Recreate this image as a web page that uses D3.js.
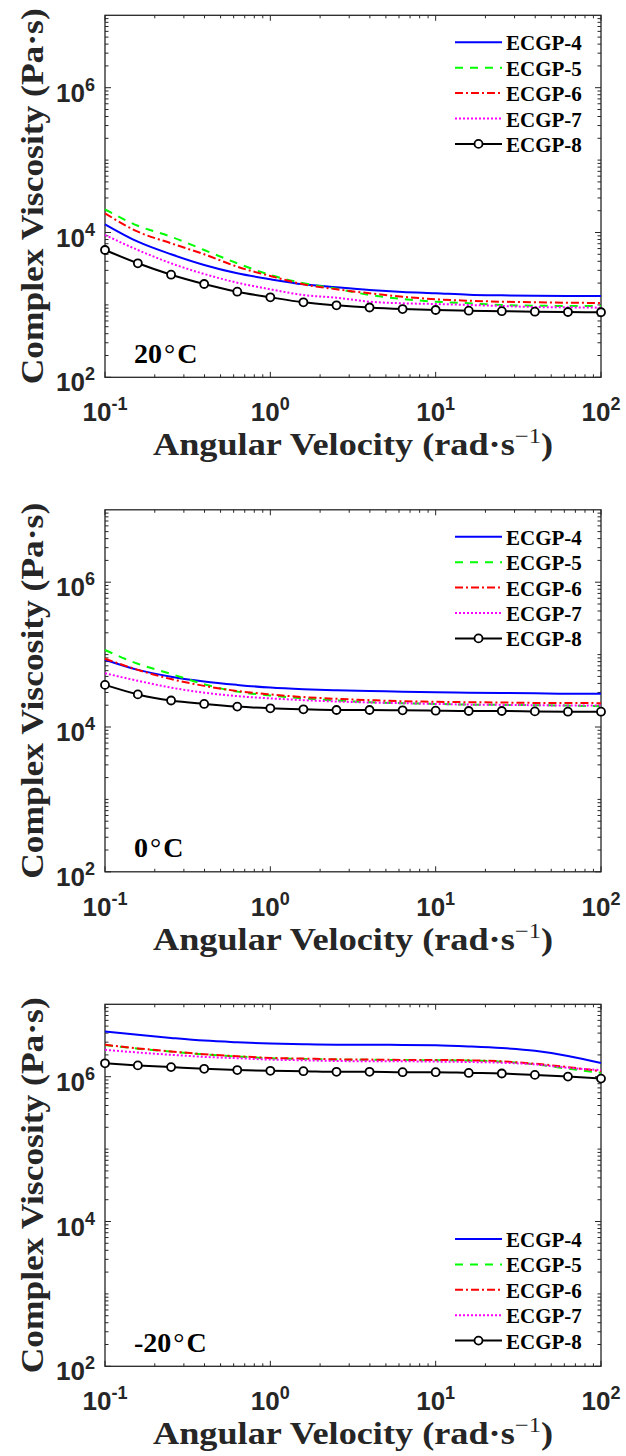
<!DOCTYPE html>
<html><head><meta charset="utf-8">
<script src="https://cdn.jsdelivr.net/npm/d3@7"></script>
<style>body{margin:0;background:#fff}svg{display:block}</style>
</head><body>
<svg id="chart" width="626" height="1456"></svg>
<script>
// ---------- data ----------
const omega = [0.1, 0.158, 0.251, 0.398, 0.631, 1, 1.585, 2.512, 3.981, 6.31, 10, 15.85, 25.12, 39.81, 63.1, 100];
const seriesNames = ["ECGP-4", "ECGP-5", "ECGP-6", "ECGP-7", "ECGP-8"];
const tempValues = ["20", "0", "-20"];
const xTickValues = [0.1, 1, 10, 100];
const xTickExp = ["-1", "0", "1", "2"];
const yTickValues = [1e2, 1e4, 1e6];
const yTickExp = ["2", "4", "6"];

// 20 °C
const t20_e4 = [12980, 7460, 5000, 3560, 2730, 2260, 1925, 1750, 1606, 1507, 1447, 1383, 1357, 1340, 1327, 1327];
const t20_e5 = [20900, 12400, 8750, 5730, 3755, 2590, 1990, 1674, 1370, 1206, 1107, 1052, 997, 975, 966, 966];
const t20_e6 = [18400, 10260, 7090, 5000, 3370, 2506, 1925, 1643, 1447, 1298, 1195, 1143, 1107, 1086, 1073, 1062];
const t20_e7 = [9240, 5730, 3755, 2673, 2026, 1643, 1370, 1257, 1107, 1052, 1029, 997, 966, 935, 926, 915];
const t20_e8 = [5730, 3755, 2612, 1944, 1522, 1274, 1086, 988, 920, 877, 850, 832, 819, 806, 798, 791];
// 0 °C
const t0_e4 = [85000, 61500, 49500, 42500, 38150, 35000, 33200, 32100, 31400, 30800, 30150, 29800, 29500, 29200, 28840, 28840];
const t0_e5 = [115700, 74700, 54000, 39000, 30800, 27300, 24840, 23230, 22000, 21300, 20840, 20390, 20200, 20010, 19760, 19320];
const t0_e6 = [87800, 61500, 45900, 37000, 31400, 28200, 25900, 24500, 23500, 22700, 22300, 22000, 21800, 21530, 21530, 21320];
const t0_e7 = [55200, 43500, 35000, 29800, 26700, 24840, 23500, 22500, 21800, 21300, 20840, 20390, 20200, 20010, 19760, 19760];
const t0_e8 = [38150, 28200, 23230, 20840, 19130, 18130, 17560, 17170, 17170, 17010, 16800, 16630, 16630, 16430, 16270, 16270];
// -20 °C
const tm20_e4 = [4225000, 3790000, 3435000, 3152000, 2986000, 2866000, 2802000, 2767000, 2767000, 2740000, 2714000, 2621000, 2491000, 2279000, 1938000, 1546000];
const tm20_e5 = [2740000, 2440000, 2220000, 2030000, 1900000, 1800000, 1760000, 1725000, 1710000, 1695000, 1690000, 1670000, 1615000, 1480000, 1290000, 1130000];
const tm20_e6 = [2767000, 2460000, 2236000, 2046000, 1919000, 1818000, 1778000, 1739000, 1723000, 1706000, 1706000, 1685000, 1632000, 1512000, 1357000, 1191000];
const tm20_e7 = [2352000, 2159000, 2007000, 1877000, 1801000, 1723000, 1685000, 1648000, 1632000, 1632000, 1617000, 1596000, 1561000, 1479000, 1327000, 1234000];
const tm20_e8 = [1531000, 1432000, 1357000, 1286000, 1234000, 1206000, 1191000, 1169000, 1169000, 1154000, 1154000, 1128000, 1107000, 1059000, 1003000, 941000];

const panels = [
  [t20_e4, t20_e5, t20_e6, t20_e7, t20_e8],
  [t0_e4, t0_e5, t0_e6, t0_e7, t0_e8],
  [tm20_e4, tm20_e5, tm20_e6, tm20_e7, tm20_e8]
];

// ---------- styles / layout ----------
const colors = ["#0000ff", "#00ff00", "#ff0000", "#ff00ff", "#000000"];
const dashes = [null, "8,7", "8,3,2,3", "2,2", null];
const L = 105, R = 601, H = 362;
const tops = [15.3, 509.8, 1004.3];
const legendTop = [27, 27, 234.7];
const axisColor = "#262626";
const serif = "Liberation Serif, Times New Roman, serif";
const sans = "Liberation Sans, Arial, sans-serif";

const svg = d3.select("#chart");

panels.forEach((series, pi) => {
  const top = tops[pi], bottom = top + H;
  const x = d3.scaleLog().domain([0.1, 100]).range([L, R]);
  const y = d3.scaleLog().domain([1e2, 1e7]).range([bottom, top]);
  const g = svg.append("g");

  // frame
  g.append("rect").attr("x", L).attr("y", top).attr("width", R - L).attr("height", H)
    .attr("fill", "none").attr("stroke", axisColor).attr("stroke-width", 1.3);

  // ticks
  const xMinor = [];
  for (let e = -1; e < 2; e++) for (let m = 2; m <= 9; m++) xMinor.push(m * Math.pow(10, e));
  const tk = g.append("g").attr("stroke", axisColor).attr("stroke-width", 1);
  xTickValues.forEach(v => {
    const px = x(v);
    tk.append("line").attr("x1", px).attr("x2", px).attr("y1", bottom).attr("y2", bottom - 5.5);
    tk.append("line").attr("x1", px).attr("x2", px).attr("y1", top).attr("y2", top + 5.5);
  });
  xMinor.forEach(v => {
    const px = x(v);
    tk.append("line").attr("x1", px).attr("x2", px).attr("y1", bottom).attr("y2", bottom - 3);
    tk.append("line").attr("x1", px).attr("x2", px).attr("y1", top).attr("y2", top + 3);
  });
  const yMinor = [];
  for (let e = 2; e < 7; e++) for (let m = 2; m <= 9; m++) yMinor.push(m * Math.pow(10, e));
  [1e3, 1e5].forEach(v => yMinor.push(v));
  yTickValues.forEach(v => {
    const py = y(v);
    tk.append("line").attr("x1", L).attr("x2", L + 6).attr("y1", py).attr("y2", py);
    tk.append("line").attr("x1", R).attr("x2", R - 6).attr("y1", py).attr("y2", py);
  });
  yMinor.forEach(v => {
    const py = y(v);
    tk.append("line").attr("x1", L).attr("x2", L + 3.5).attr("y1", py).attr("y2", py);
    tk.append("line").attr("x1", R).attr("x2", R - 3.5).attr("y1", py).attr("y2", py);
  });

  // tick labels
  xTickValues.forEach((v, i) => {
    const t = g.append("text").attr("x", x(v)).attr("y", bottom + 44)
      .attr("text-anchor", "middle").attr("font-family", sans)
      .attr("font-weight", "bold").attr("font-size", 26).attr("fill", axisColor);
    t.append("tspan").text("10");
    t.append("tspan").attr("dy", -11).attr("font-size", 18).text(xTickExp[i]);
  });
  yTickValues.forEach((v, i) => {
    const t = g.append("text").attr("x", 95).attr("y", y(v) + 14)
      .attr("text-anchor", "end").attr("font-family", sans)
      .attr("font-weight", "bold").attr("font-size", 26).attr("fill", axisColor);
    t.append("tspan").text("10");
    t.append("tspan").attr("dy", -11).attr("font-size", 18).text(yTickExp[i]);
  });

  // axis titles
  const xt2 = g.append("text").attr("x", (L + R) / 2).attr("y", bottom + 78)
    .attr("text-anchor", "middle").attr("font-family", serif)
    .attr("font-weight", "bold").attr("font-size", 31).attr("fill", axisColor)
    .attr("textLength", 400).attr("lengthAdjust", "spacingAndGlyphs");
  xt2.append("tspan").text("Angular Velocity (rad·s");
  xt2.append("tspan").attr("dy", -12).attr("font-size", 21).attr("font-weight", "normal").text("−1");
  xt2.append("tspan").attr("dy", 12).text(")");

  g.append("text").attr("transform", `translate(43,${top + H / 2}) rotate(-90)`)
    .attr("text-anchor", "middle").attr("font-family", serif)
    .attr("font-weight", "bold").attr("font-size", 31).attr("fill", axisColor)
    .attr("textLength", 376).attr("lengthAdjust", "spacingAndGlyphs")
    .text("Complex Viscosity (Pa·s)");

  // temperature label
  const tl = g.append("text").attr("x", 134).attr("y", bottom - 14.6)
    .attr("font-family", serif).attr("font-weight", "bold")
    .attr("font-size", 28).attr("fill", "#000");
  tl.append("tspan").text(tempValues[pi]);
  tl.append("tspan").attr("dx", 2).attr("font-weight", "normal").text("°");
  tl.append("tspan").attr("dx", 2).text("C");

  // series
  const line = d3.line().x((d, i) => x(omega[i])).y(d => y(d)).curve(d3.curveMonotoneX);
  series.forEach((vals, si) => {
    g.append("path").datum(vals).attr("d", line).attr("fill", "none")
      .attr("stroke", colors[si]).attr("stroke-width", 2)
      .attr("stroke-dasharray", dashes[si]);
  });
  g.append("g").selectAll("circle").data(series[4]).join("circle")
    .attr("cx", (d, i) => x(omega[i])).attr("cy", d => y(d)).attr("r", 4)
    .attr("fill", "#fff").attr("stroke", "#000").attr("stroke-width", 1.8);

  // legend
  const lg = g.append("g");
  seriesNames.forEach((name, si) => {
    const ly = top + legendTop[pi] + si * 25.4;
    lg.append("line").attr("x1", 455).attr("x2", 502).attr("y1", ly).attr("y2", ly)
      .attr("stroke", colors[si]).attr("stroke-width", 2).attr("stroke-dasharray", dashes[si]);
    if (si === 4) {
      lg.append("circle").attr("cx", 478.5).attr("cy", ly).attr("r", 4)
        .attr("fill", "#fff").attr("stroke", "#000").attr("stroke-width", 1.8);
    }
    lg.append("text").attr("x", 506).attr("y", ly + 8)
      .attr("font-family", serif).attr("font-weight", "bold")
      .attr("font-size", 21).attr("fill", "#000").text(name);
  });
});
</script>
</body></html>
